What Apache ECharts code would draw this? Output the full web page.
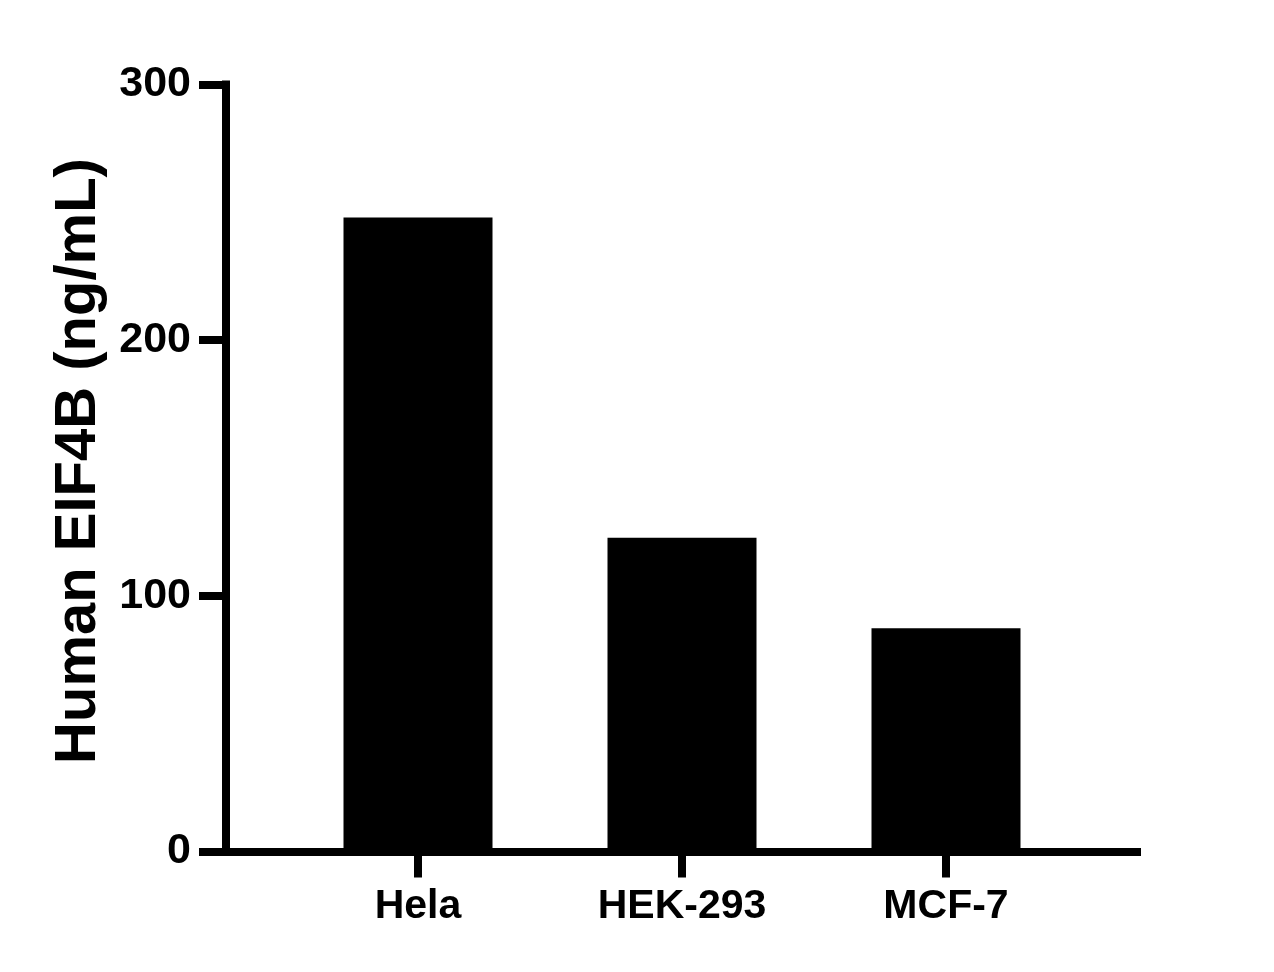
<!DOCTYPE html>
<html>
<head>
<meta charset="utf-8">
<script src="https://cdn.jsdelivr.net/npm/echarts@6/dist/echarts.min.js"></script>
<style>
html,body{margin:0;padding:0;background:#fff;}
#chart{width:1274px;height:972px;}
</style>
</head>
<body>
<div id="chart"></div>
<script>
const categories = ['Hela', 'HEK-293', 'MCF-7'];
const values = [248, 122.7, 87.3];
const yTitle = 'Human EIF4B (ng/mL)';
const yMin = 0, yMax = 300, yStep = 100;

const FONT = "Arial, 'Liberation Sans', sans-serif";
const chart = echarts.init(document.getElementById('chart'));
chart.setOption({
  backgroundColor: '#ffffff',
  animation: false,
  grid: [
    { left: 226, right: 137, top: 84.5, bottom: 120.5 },
    { left: 286, right: 196, top: 84.5, bottom: 120.5 }
  ],
  xAxis: [
    {
      gridIndex: 0, type: 'value', min: 0, max: 1,
      axisLine: { show: true, onZero: false, lineStyle: { color: '#000', width: 8, cap: 'square' } },
      axisTick: { show: false }, axisLabel: { show: false }, splitLine: { show: false }
    },
    {
      gridIndex: 1, type: 'category', data: categories,
      axisLine: { show: false },
      axisTick: { show: true, alignWithLabel: true, length: 26, lineStyle: { color: '#000', width: 8 } },
      axisLabel: { margin: 35, color: '#000', fontFamily: FONT, fontWeight: 'bold', fontSize: 41 },
      splitLine: { show: false }
    }
  ],
  yAxis: [
    {
      gridIndex: 0, type: 'value', min: yMin, max: yMax, interval: yStep,
      name: yTitle, nameLocation: 'middle', nameGap: 117,
      nameTextStyle: { color: '#000', fontFamily: FONT, fontWeight: 'bold', fontSize: 58, padding: [0, 0, 0, 14] },
      axisLine: { show: true, lineStyle: { color: '#000', width: 8, cap: 'square' } },
      axisTick: { show: true, length: 27, lineStyle: { color: '#000', width: 8 } },
      axisLabel: { margin: 35, color: '#000', fontFamily: FONT, fontWeight: 'bold', fontSize: 43 },
      splitLine: { show: false }
    },
    {
      gridIndex: 1, type: 'value', min: yMin, max: yMax, interval: yStep, show: false
    }
  ],
  series: [
    {
      type: 'bar', xAxisIndex: 1, yAxisIndex: 1,
      data: values, barWidth: 149,
      itemStyle: { color: '#000' }
    }
  ]
});
</script>
</body>
</html>
